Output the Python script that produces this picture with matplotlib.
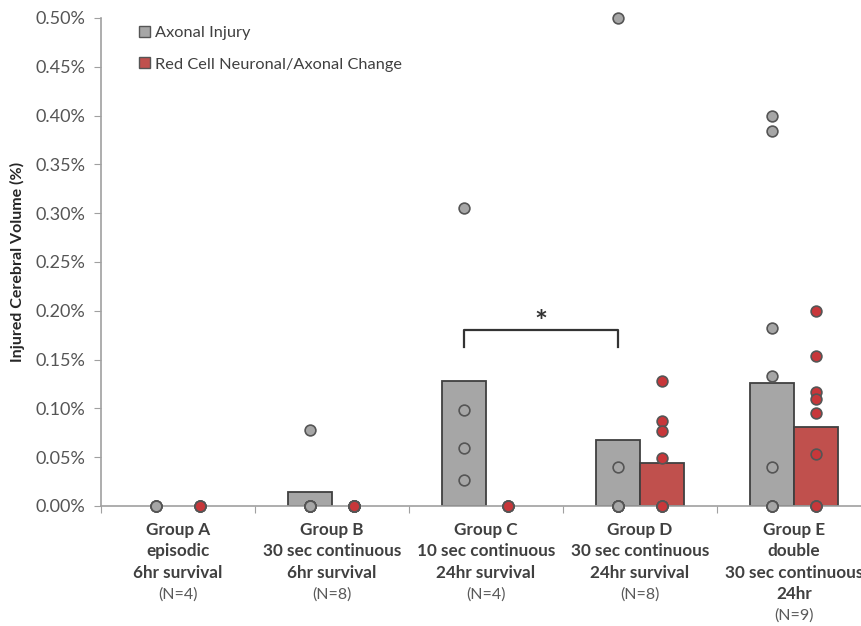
import matplotlib
matplotlib.use("Agg")
import matplotlib.pyplot as plt
from matplotlib.ticker import FuncFormatter, MultipleLocator, FixedLocator
from matplotlib.patches import Patch
import numpy as np

plt.rcParams['font.family'] = ['Lato', 'DejaVu Sans']

groups_bold = [
    ["Group A", "episodic", "6hr survival"],
    ["Group B", "30 sec continuous", "6hr survival"],
    ["Group C", "10 sec continuous", "24hr survival"],
    ["Group D", "30 sec continuous", "24hr survival"],
    ["Group E", "double", "30 sec continuous", "24hr"],
]
group_n = ["(N=4)", "(N=8)", "(N=4)", "(N=8)", "(N=9)"]

# bar heights (% injured cerebral volume)
axonal_bar = [0.0, 0.014, 0.128, 0.068, 0.126]
red_bar = [0.0, 0.0, 0.0, 0.044, 0.081]

# individual animals
axonal_pts = [
    [0, 0, 0, 0],
    [0.078, 0, 0, 0, 0, 0, 0, 0],
    [0.305, 0.098, 0.059, 0.027],
    [0.50, 0.040, 0, 0, 0, 0, 0, 0],
    [0.400, 0.384, 0.182, 0.133, 0.040, 0, 0, 0, 0],
]
red_pts = [
    [0, 0, 0, 0],
    [0, 0, 0, 0, 0, 0, 0, 0],
    [0, 0, 0, 0],
    [0.128, 0.087, 0.077, 0.049, 0, 0, 0, 0],
    [0.200, 0.154, 0.117, 0.110, 0.095, 0.053, 0, 0, 0],
]

sig_pair = (2, 3)
sig_y = 0.180
sig_leg = 0.163

GRAY = "#a6a6a6"
RED = "#c0504d"
EDGE = "#404040"
TXT = "#404040"

fig = plt.figure(figsize=(8.62, 6.26), dpi=100)
ax = fig.add_axes([101/862, 1-506/626, 770/862, 488/626])

x = np.arange(len(group_n))
off = 0.143
w = 0.286
for i in range(len(group_n)):
    if axonal_bar[i] > 0:
        ax.bar(x[i] - off, axonal_bar[i], w, color=GRAY, edgecolor=EDGE, linewidth=1.3, zorder=2)
    if red_bar[i] > 0:
        ax.bar(x[i] + off, red_bar[i], w, color=RED, edgecolor=EDGE, linewidth=1.3, zorder=2)

for i in range(len(group_n)):
    ya = axonal_pts[i]
    yr = red_pts[i]
    ax.scatter(np.full(len(ya), x[i] - off), ya, s=60, color=GRAY, edgecolor="#555555",
               linewidth=1.2, zorder=4, clip_on=False)
    ax.scatter(np.full(len(yr), x[i] + off), yr, s=60, color="#c8373a", edgecolor="#555555",
               linewidth=1.2, zorder=4, clip_on=False)

# significance bracket
xa = sig_pair[0] - off
xb = sig_pair[1] - off
ax.plot([xa, xa, xb, xb], [sig_leg, sig_y, sig_y, sig_leg], color="#333333", lw=1.6, zorder=3)
ax.text((xa + xb) / 2, sig_y + 0.008, "*", ha="center", va="center", fontsize=22,
        color="#333333", fontweight="bold")

ax.set_xlim(-0.5, len(group_n) - 0.5)
ax.set_ylim(0, 0.50)
ax.yaxis.set_major_locator(MultipleLocator(0.05))
ax.yaxis.set_major_formatter(FuncFormatter(lambda v, p: f"{v:.2f}%"))
ax.xaxis.set_major_locator(FixedLocator(np.arange(-0.5, len(group_n), 1.0)))
ax.set_xticklabels([])
ax.tick_params(axis="x", direction="out", length=5, color="#a0a0a0")
ax.tick_params(axis="y", direction="out", length=5, color="#a0a0a0", labelsize=13,
               labelcolor="#555555", pad=6)
for s in ["top", "right"]:
    ax.spines[s].set_visible(False)
for s in ["left", "bottom"]:
    ax.spines[s].set_color("#a0a0a0")
    ax.spines[s].set_linewidth(1.2)

ax.set_ylabel("Injured Cerebral Volume (%)", fontsize=11.5, color="#262626", fontweight="bold",
              labelpad=8)

# category labels
for i in range(len(group_n)):
    lines = groups_bold[i]
    for k, t in enumerate(lines):
        ax.annotate(t, xy=(x[i], 0), xycoords=("data", "axes fraction"),
                    xytext=(0, -17.5 - 15.2 * k), textcoords="offset points",
                    ha="center", va="center", fontsize=12.3, fontweight="bold", color=TXT)
    ax.annotate(group_n[i], xy=(x[i], 0), xycoords=("data", "axes fraction"),
                xytext=(0, -18 - 15.2 * len(lines)), textcoords="offset points",
                ha="center", va="center", fontsize=11.5, color="#595959")

# legend
handles = [Patch(facecolor=GRAY, edgecolor="#555555", label="Axonal Injury"),
           Patch(facecolor=RED, edgecolor="#555555", label="Red Cell Neuronal/Axonal Change")]
leg = ax.legend(handles=handles, loc="upper left", bbox_to_anchor=(0.03, 1.014), frameon=False,
                fontsize=11.8, handlelength=0.65, handleheight=0.65, handletextpad=0.35,
                labelspacing=1.05)
for t in leg.get_texts():
    t.set_color(TXT)

fig.savefig("out.png", dpi=100)
